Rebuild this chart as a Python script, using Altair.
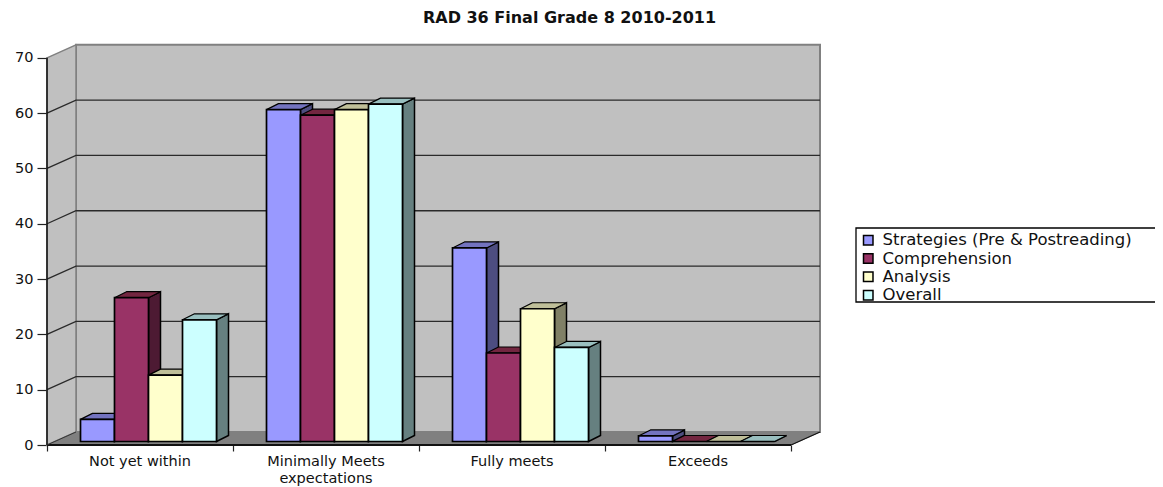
import altair as alt
import pandas as pd

TITLE = "RAD 36 Final Grade 8 2010-2011"
CATEGORIES = ["Not yet within", "Minimally Meets\nexpectations", "Fully meets", "Exceeds"]
SERIES = ["Strategies (Pre & Postreading)", "Comprehension", "Analysis", "Overall"]
STRATEGIES = [4, 60, 35, 1]
COMPREHENSION = [26, 59, 16, 0]
ANALYSIS = [12, 60, 24, 0]
OVERALL = [22, 61, 17, 0]
VALUES = [STRATEGIES, COMPREHENSION, ANALYSIS, OVERALL]
TICKS = [0, 10, 20, 30, 40, 50, 60, 70]
GRID = [10, 20, 30, 40, 50, 60]
FRONT = ["#9999FF", "#993366", "#FFFFCC", "#CCFFFF"]
SIDE = ["#4D4D80", "#4D1A33", "#808066", "#668080"]
TOP = ["#7373BF", "#732640", "#BFBF99", "#99BFBF"]

FONT = "DejaVu Sans"
W, H = 773, 401
CAT_PX = 186.0
YMAX = 72.5
PX_Y = H / YMAX
WALL_DX, WALL_DY = 29 / CAT_PX, 13 / PX_Y
BAR_DX, BAR_DY = 12 / CAT_PX, 6 / PX_Y
BAR_W = 34 / CAT_PX
BAR_START = 33.5 / CAT_PX
BASE = 3.5 / PX_Y
NCAT = len(CATEGORIES)
TOPV = TICKS[-1]
LEG_X, LEG_Y, LEG_W, LEG_H = 809, 184, 360, 74

xs = alt.Scale(domain=[0, W / CAT_PX], range=[0, W], nice=False, zero=False)
ys = alt.Scale(domain=[0, YMAX], range=[H, 0], nice=False, zero=False)
X_AXIS = alt.Axis(values=list(range(NCAT + 1)), labels=False, domain=False, grid=False,
                  tickColor="#222222", tickSize=6, tickWidth=1.2, title=None)
Y_AXIS = alt.Axis(values=TICKS, domain=False, grid=False, tickColor="#222222", tickSize=10, tickWidth=1.2,
                  labelFont=FONT, labelFontSize=14.5, labelColor="#111111", labelPadding=4, title=None)
X = alt.X("x:Q", scale=xs, axis=X_AXIS)
Y = alt.Y("y:Q", scale=ys, axis=Y_AXIS)
X2 = alt.X2("x2:Q")
Y2 = alt.Y2("y2:Q")


def poly(points, fill, stroke, sw=1.0):
    df = pd.DataFrame([{"x": p[0], "y": p[2], "y2": p[1]} for p in points])
    return alt.Chart(df).mark_area(fill=fill, stroke=stroke, strokeWidth=sw).encode(x=X, y=Y, y2=Y2)


def seg(points, color, sw):
    df = pd.DataFrame([{"x": p[0], "y": p[1], "o": i} for i, p in enumerate(points)])
    return alt.Chart(df).mark_line(color=color, strokeWidth=sw).encode(x=X, y=Y, order="o:Q")


wall = alt.Chart(pd.DataFrame([{"x": WALL_DX, "x2": NCAT + WALL_DX, "y": WALL_DY, "y2": TOPV + WALL_DY}])).mark_rect(
    fill="#C0C0C0", stroke="#808080", strokeWidth=2).encode(x=X, x2=X2, y=Y, y2=Y2)
left_wall = poly([(0, 0, TOPV), (WALL_DX, WALL_DY, TOPV + WALL_DY)], "#C0C0C0", "#808080", 1.5)
floor = alt.Chart(pd.DataFrame([
    {"y": 0.0, "x": 0.0, "x2": float(NCAT)},
    {"y": WALL_DY, "x": WALL_DX, "x2": NCAT + WALL_DX},
])).mark_area(orient="horizontal", fill="#808080", stroke="#808080", strokeWidth=1).encode(x=X, x2=X2, y=Y)

# legend frame, running off the right edge of the page as in the reference
frame = alt.Chart(pd.DataFrame([{
    "x": LEG_X / CAT_PX, "x2": (LEG_X + LEG_W) / CAT_PX,
    "y": (H - LEG_Y) / PX_Y, "y2": (H - LEG_Y - LEG_H) / PX_Y,
}])).mark_rect(fill="#FFFFFF", stroke="#000000", strokeWidth=1.3).encode(x=X, x2=X2, y=Y, y2=Y2)

layers = [frame, wall, left_wall, floor]
for v in GRID:
    layers.append(seg([(0, v), (WALL_DX, v + WALL_DY), (NCAT + WALL_DX, v + WALL_DY)], "#2a2a2a", 1.3))
layers.append(seg([(0, 0), (0, TOPV)], "#111111", 1.5))
layers.append(seg([(0, 0), (NCAT, 0)], "#111111", 2))
layers.append(seg([(NCAT, 0), (NCAT + WALL_DX, WALL_DY)], "#111111", 1.2))
layers.append(seg([(0, 0), (WALL_DX, WALL_DY)], "#333333", 1))

for s, vals in enumerate(VALUES):
    side_rows, top_rows = [], []
    for c, v in enumerate(vals):
        xl = c + BAR_START + s * BAR_W
        xr = xl + BAR_W
        side_rows += [
            {"cat": c, "x": xr, "y": BASE + v, "y2": BASE},
            {"cat": c, "x": xr + BAR_DX, "y": BASE + v + BAR_DY, "y2": BASE + BAR_DY},
        ]
        top_rows += [
            {"cat": c, "y": BASE + v, "x": xl, "x2": xr},
            {"cat": c, "y": BASE + v + BAR_DY, "x": xl + BAR_DX, "x2": xr + BAR_DX},
        ]
    layers.append(alt.Chart(pd.DataFrame(side_rows)).mark_area(
        fill=SIDE[s], stroke="#000000", strokeWidth=1.5).encode(x=X, y=Y, y2=Y2, detail="cat:N"))
    layers.append(alt.Chart(pd.DataFrame(top_rows)).mark_area(
        orient="horizontal", fill=TOP[s], stroke="#000000", strokeWidth=1.2).encode(x=X, x2=X2, y=Y, detail="cat:N"))

rows = []
for s, vals in enumerate(VALUES):
    for c, v in enumerate(vals):
        xl = c + BAR_START + s * BAR_W
        rows.append({"series": SERIES[s], "x": xl, "x2": xl + BAR_W, "y": BASE + v, "y2": BASE})
layers.append(alt.Chart(pd.DataFrame(rows)).mark_rect(stroke="#000000", strokeWidth=1.7).encode(
    x=X, x2=X2, y=Y, y2=Y2,
    color=alt.Color("series:N", scale=alt.Scale(domain=SERIES, range=FRONT), sort=SERIES,
                    legend=alt.Legend(
                        title=None, orient="none", legendX=LEG_X, legendY=LEG_Y, padding=4,
                        symbolType="square", symbolSize=90, symbolStrokeColor="#000000",
                        symbolStrokeWidth=1.5, labelFont=FONT, labelFontSize=16.5,
                        labelColor="#111111", labelLimit=400, rowPadding=1.3, labelOffset=6)),
))

labels = pd.DataFrame({"x": [i + 0.5 for i in range(NCAT)], "y": [0.0] * NCAT, "t": [c.split("\n") for c in CATEGORIES]})
layers.append(alt.Chart(labels).mark_text(
    font=FONT, fontSize=14.5, color="#111111", baseline="top", align="center", dy=10, lineHeight=17
).encode(x=X, y=Y, text="t:N"))

chart = alt.layer(*layers).properties(
    width=W, height=H,
    title=alt.TitleParams(TITLE, font=FONT, fontSize=16, fontWeight="bold", color="#111111",
                          anchor="middle", dx=136, offset=16),
    padding={"left": 39, "top": 36, "right": 335, "bottom": 44},
    autosize=alt.AutoSizeParams(type="none"),
).configure_view(stroke=None)

chart.save("out.html", embed_options={"renderer": "svg", "actions": False})
